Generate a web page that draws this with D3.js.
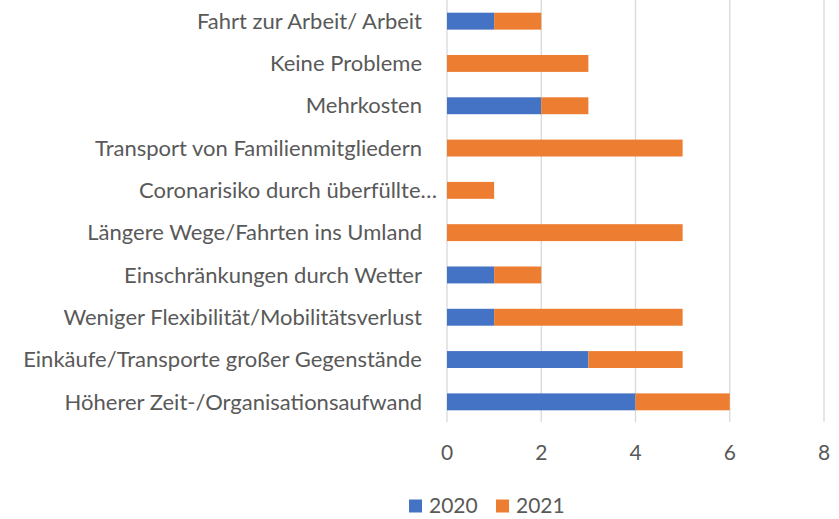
<!DOCTYPE html>
<html>
<head>
<meta charset="utf-8">
<script src="https://cdn.jsdelivr.net/npm/d3@7"></script>
<style>
  body { margin: 0; background: #fff; }
  text { font-family: Lato, "Open Sans", sans-serif; fill: #595959; }
</style>
</head>
<body>
<svg id="Chart"></svg>
<script>
// categories, top to bottom
let categories = [
  'Fahrt zur Arbeit/ Arbeit',
  'Keine Probleme',
  'Mehrkosten',
  'Transport von Familienmitgliedern',
  'Coronarisiko durch überfüllte…',
  'Längere Wege/Fahrten ins Umland',
  'Einschränkungen durch Wetter',
  'Weniger Flexibilität/Mobilitätsverlust',
  'Einkäufe/Transporte großer Gegenstände',
  'Höherer Zeit-/Organisationsaufwand'
];
let values2020 = [1, 0, 2, 0, 0, 0, 1, 1, 3, 4];
let values2021 = [1, 3, 1, 5, 1, 5, 1, 4, 2, 2];
let seriesNames = ['2020', '2021'];
let colors = ['#4472c4', '#ed7d31'];
let xTicks = [0, 2, 4, 6, 8];

function getConfig() {
  let width = 839;
  let height = 519;
  let margin = { top: 0, left: 447, right: 15 };
  let bodyHeight = 423;
  let bodyWidth = 824 - margin.left;
  let container = d3.select('#Chart').attr('width', width).attr('height', height);
  return { width, height, margin, bodyHeight, bodyWidth, container };
}

function getScales(config) {
  let xScale = d3.scaleLinear().domain([0, 8]).range([0, config.bodyWidth]);
  let yScale = d3.scaleBand()
    .domain(categories)
    .range([0, config.bodyHeight])
    .paddingInner(0.6)
    .paddingOuter(0.3);
  return { xScale, yScale };
}

function drawChart() {
  let config = getConfig();
  let { xScale, yScale } = getScales(config);
  let { container, margin, bodyHeight } = config;

  let body = container.append('g')
    .attr('transform', `translate(${margin.left},${margin.top})`);

  // gridlines
  body.selectAll('.grid').data(xTicks).enter().append('line')
    .attr('x1', d => xScale(d)).attr('x2', d => xScale(d))
    .attr('y1', 0).attr('y2', bodyHeight - 1)
    .attr('stroke', '#d9d9d9').attr('stroke-width', 1.3);

  // stacked data
  let rows = categories.map((c, i) => ({ cat: c, '2020': values2020[i], '2021': values2021[i] }));
  let stacked = d3.stack().keys(seriesNames)(rows);

  body.selectAll('.series').data(stacked).enter().append('g')
    .attr('fill', (d, i) => colors[i])
    .selectAll('rect').data(d => d.filter(p => p[1] > p[0])).enter().append('rect')
    .attr('x', d => xScale(d[0]))
    .attr('width', d => xScale(d[1]) - xScale(d[0]))
    .attr('y', d => yScale(d.data.cat))
    .attr('height', yScale.bandwidth());

  // category labels
  body.selectAll('.cat').data(categories).enter().append('text')
    .attr('x', d => d.endsWith('…') ? -10 : -25)
    .attr('y', d => yScale(d) + yScale.bandwidth() / 2)
    .attr('dy', '0.35em')
    .attr('text-anchor', 'end')
    .style('font-size', '22px')
    .text(d => d);

  // x tick labels
  body.selectAll('.tick').data(xTicks).enter().append('text')
    .attr('x', d => xScale(d))
    .attr('y', 453)
    .attr('dy', '0.35em')
    .attr('text-anchor', 'middle')
    .style('font-size', '21px')
    .text(d => d);

  // legend
  let legend = container.append('g').attr('transform', 'translate(409,506)');
  let legendX = [0, 87];
  seriesNames.forEach((s, i) => {
    legend.append('rect').attr('x', legendX[i]).attr('y', -6.5)
      .attr('width', 13).attr('height', 13).attr('fill', colors[i]);
    legend.append('text').attr('x', legendX[i] + 20).attr('y', 0).attr('dy', '0.35em')
      .style('font-size', '21px').text(s);
  });
}

drawChart();
</script>
</body>
</html>
